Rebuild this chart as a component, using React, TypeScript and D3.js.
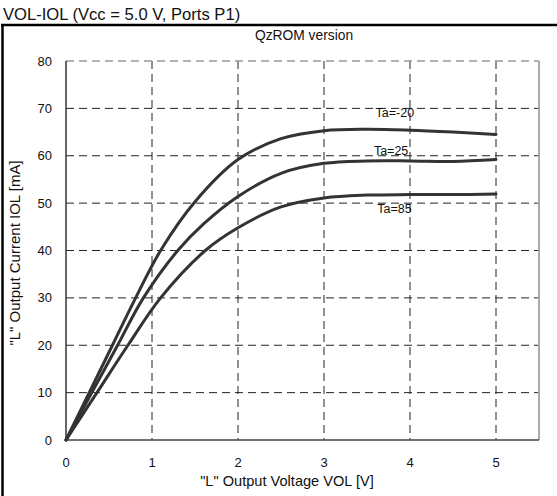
import React from "react";
import * as d3 from "d3";

// VOL–IOL characteristics, one array per ambient temperature
const voltages20 = [0, 0.27, 0.54, 0.81, 1.1, 1.5, 2.0, 2.5, 3.0, 3.5, 4.0, 4.5, 5.0];
const currents20 = [0, 10, 20, 30, 40, 50.3, 59.2, 63.6, 65.3, 65.6, 65.4, 65.0, 64.5];

const voltages25 = [0, 0.3, 0.6, 0.9, 1.3, 1.6, 2.0, 2.5, 3.0, 3.5, 4.0, 4.5, 5.0];
const currents25 = [0, 10, 20, 30, 40, 45.6, 51.4, 56.3, 58.4, 58.9, 58.9, 58.8, 59.2];

const voltages85 = [0, 0.36, 0.72, 1.1, 1.62, 2.0, 2.5, 3.0, 3.5, 4.0, 4.5, 5.0];
const currents85 = [0, 10, 20, 30, 40, 44.8, 49.2, 51.1, 51.7, 51.8, 51.8, 51.9];

const seriesLabels = ["Ta=-20", "Ta=25", "Ta=85"];
const labelAnchors = [
  { v: 3.6, i: 68.1 },
  { v: 3.58, i: 60.2 },
  { v: 3.62, i: 47.9 },
];

const xTicks = [0, 1, 2, 3, 4, 5];
const yTicks = [0, 10, 20, 30, 40, 50, 60, 70, 80];

const W = 557;
const H = 496;
const plot = { left: 66, right: 539, top: 61, bottom: 440 };
const FONT = "'Liberation Sans', Arial, sans-serif";

export default function App() {
  const x = d3.scaleLinear().domain([0, 5.5]).range([plot.left, plot.right]);
  const y = d3.scaleLinear().domain([0, 80]).range([plot.bottom, plot.top]);

  const line = d3
    .line<[number, number]>()
    .x((d) => x(d[0]))
    .y((d) => y(d[1]))
    .curve(d3.curveCatmullRom.alpha(0.5));

  const series = [
    d3.zip(voltages20, currents20) as [number, number][],
    d3.zip(voltages25, currents25) as [number, number][],
    d3.zip(voltages85, currents85) as [number, number][],
  ];

  return (
    <svg
      width={W}
      height={H}
      style={{ position: "absolute", left: 0, top: 0, background: "#fff" }}
      fontFamily={FONT}
    >
      <rect x={0} y={0} width={W} height={H} fill="#fff" />
      {/* outer frame */}
      <line x1={1} x2={W} y1={25} y2={25} stroke="#000" strokeWidth={2.5} />
      <line x1={2.5} x2={2.5} y1={24} y2={H} stroke="#000" strokeWidth={2.5} />

      <text x={3} y={20} fontSize={16.6} fill="#111">
        VOL-IOL (Vcc = 5.0 V, Ports P1)
      </text>
      <text x={304} y={40} fontSize={13.8} fill="#111" textAnchor="middle">
        QzROM version
      </text>

      {/* dashed grid */}
      {xTicks
        .filter((t) => t > 0)
        .map((t) => (
          <line
            key={"gx" + t}
            x1={x(t)}
            x2={x(t)}
            y1={plot.top}
            y2={plot.bottom}
            stroke="#222"
            strokeWidth={1}
            strokeDasharray="8,5"
          />
        ))}
      {yTicks
        .filter((t) => t > 0 && t < 80)
        .map((t) => (
          <line
            key={"gy" + t}
            x1={plot.left}
            x2={plot.right}
            y1={y(t)}
            y2={y(t)}
            stroke="#222"
            strokeWidth={1}
            strokeDasharray="8,5"
          />
        ))}

      {/* plot border */}
      <line x1={plot.left} x2={plot.right} y1={plot.top} y2={plot.top} stroke="#999" strokeWidth={1.5} strokeDasharray="8,5" />
      <line x1={plot.right} x2={plot.right} y1={plot.top} y2={plot.bottom} stroke="#aaa" strokeWidth={2} />
      <line x1={plot.left} x2={plot.left} y1={plot.top} y2={plot.bottom} stroke="#333" strokeWidth={1.5} />
      <line x1={plot.left} x2={plot.right} y1={plot.bottom} y2={plot.bottom} stroke="#444" strokeWidth={1.5} />

      {/* curves */}
      {series.map((s, k) => (
        <path
          key={"s" + k}
          d={line(s) || ""}
          fill="none"
          stroke="#333"
          strokeWidth={3}
          strokeLinecap="round"
          strokeLinejoin="round"
        />
      ))}

      {seriesLabels.map((lab, k) => (
        <text key={"l" + k} x={x(labelAnchors[k].v)} y={y(labelAnchors[k].i)} fontSize={12.5} fill="#111">
          {lab}
        </text>
      ))}

      {/* tick labels */}
      {yTicks.map((t) => (
        <text key={"ty" + t} x={52} y={y(t) + 4.5} fontSize={13} textAnchor="end" fill="#111">
          {t}
        </text>
      ))}
      {xTicks.map((t) => (
        <text key={"tx" + t} x={x(t)} y={467} fontSize={13} textAnchor="middle" fill="#111">
          {t}
        </text>
      ))}

      <text x={287} y={486} fontSize={14.6} textAnchor="middle" fill="#111">
        "L" Output Voltage VOL [V]
      </text>
      <text
        transform={`translate(20, 253) rotate(-90)`}
        fontSize={15}
        textAnchor="middle"
        fill="#111"
      >
        "L" Output Current IOL [mA]
      </text>
    </svg>
  );
}
